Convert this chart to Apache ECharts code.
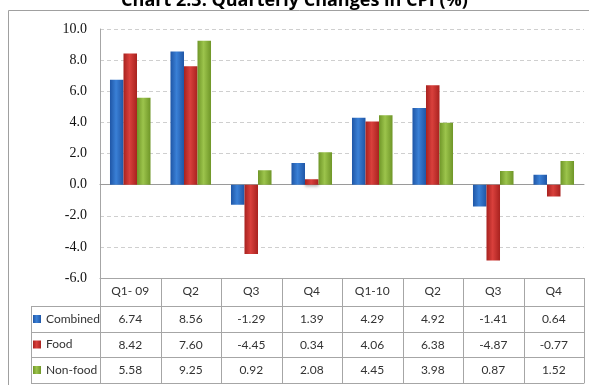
<!DOCTYPE html>
<html>
<head>
<meta charset="utf-8">
<script src="https://cdn.jsdelivr.net/npm/echarts@6/dist/echarts.min.js"></script>
<style>
  html, body { margin: 0; padding: 0; background: #fff; }
  #chart { width: 589px; height: 385px; }
</style>
</head>
<body>
<div id="chart"></div>
<script>
// Quarterly CPI changes, in per cent
const categories = ['Q1- 09', 'Q2', 'Q3', 'Q4', 'Q1-10', 'Q2', 'Q3', 'Q4'];
const seriesNames = ['Combined', 'Food', 'Non-food'];
const combined = [6.74, 8.56, -1.29, 1.39, 4.29, 4.92, -1.41, 0.64];
const food = [8.42, 7.60, -4.45, 0.34, 4.06, 6.38, -4.87, -0.77];
const nonFood = [5.58, 9.25, 0.92, 2.08, 4.45, 3.98, 0.87, 1.52];
const yMin = -6, yMax = 10, yStep = 2;

// layout
const W = 589, H = 385;
const plotLeft = 100, plotRight = 584, plotTop = 29, plotBottom = 278;
const rowOffsets = [28, 54, 79, 105];      // table row borders below the plot
const tableLeft = 31;
const gridLine = '#a6a6a6';
const tableFont = 'Lato';

function barGradient(edge, mid) {
  return new echarts.graphic.LinearGradient(0, 0, 1, 0, [
    { offset: 0, color: edge },
    { offset: 0.45, color: mid },
    { offset: 1, color: edge }
  ]);
}
const colors = [
  barGradient('#1f56a6', '#3a80d6'),
  barGradient('#a8221f', '#d9403c'),
  barGradient('#6f9628', '#9cc44c')
];
const values = [combined, food, nonFood];

// category axis used as a table row: its line is the row's top border
function tableAxis(data, offset, showLabel) {
  return {
    type: 'category',
    gridIndex: 0,
    position: 'bottom',
    offset: offset,
    data: data,
    boundaryGap: true,
    axisLine: { show: true, onZero: false, lineStyle: { color: gridLine, width: 1 } },
    axisTick: { show: false },
    axisLabel: {
      show: showLabel, interval: 0, margin: 7,
      fontFamily: tableFont, fontSize: 12, color: '#333'
    },
    splitLine: { show: false }
  };
}

const xAxes = [
  tableAxis(categories, 0, true),
  tableAxis(combined.map(v => v.toFixed(2)), rowOffsets[0], true),
  tableAxis(food.map(v => v.toFixed(2)), rowOffsets[1], true),
  tableAxis(nonFood.map(v => v.toFixed(2)), rowOffsets[2], true),
  tableAxis(categories, rowOffsets[3], false),
  // zero baseline of the bars
  {
    type: 'category', gridIndex: 0, position: 'bottom', data: categories,
    axisLine: { show: true, onZero: true, lineStyle: { color: '#9a9a9a', width: 1 } },
    axisTick: { show: false }, axisLabel: { show: false }, splitLine: { show: false }
  }
];

const series = seriesNames.map((name, i) => ({
  name: name,
  type: 'bar',
  xAxisIndex: 0,
  data: values[i],
  barGap: '0%',
  barCategoryGap: '33%',
  itemStyle: {
    color: colors[i],
    shadowColor: 'rgba(0,0,0,0.25)',
    shadowBlur: 3,
    shadowOffsetY: 2
  }
}));

const legends = seriesNames.map((name, i) => {
  const top = plotBottom + rowOffsets[i];
  const bottom = plotBottom + rowOffsets[i + 1];
  return {
    data: [name],
    left: tableLeft + 2,
    top: (top + bottom) / 2 - 7,
    padding: 0,
    orient: 'vertical',
    icon: 'rect',
    itemWidth: 8,
    itemHeight: 8,
    itemGap: 0,
    selectedMode: false,
    textStyle: { fontFamily: tableFont, fontSize: 12, color: '#333', lineHeight: 14 }
  };
});

// legend column borders of the table
const legendCells = [];
[0, 1, 2, 3].forEach(k => {
  const y = plotBottom + rowOffsets[k] + 0.5;
  legendCells.push({ type: 'line', shape: { x1: tableLeft, y1: y, x2: plotLeft, y2: y },
    style: { stroke: gridLine, lineWidth: 1 }, silent: true });
});
legendCells.push({ type: 'line',
  shape: { x1: tableLeft + 0.5, y1: plotBottom + rowOffsets[0], x2: tableLeft + 0.5, y2: plotBottom + rowOffsets[3] },
  style: { stroke: gridLine, lineWidth: 1 }, silent: true });

const option = {
  animation: false,
  backgroundColor: '#fff',
  title: {
    text: 'Chart 2.3: Quarterly Changes in CPI (%)',
    left: 'center',
    top: -13,
    textStyle: { fontFamily: 'Open Sans', fontWeight: 'bold', fontSize: 18, lineHeight: 18, color: '#000' }
  },
  graphic: [
    { type: 'rect', shape: { x: 8.5, y: 10.5, width: 620, height: 400 },
      style: { fill: 'none', stroke: '#a0a0a0', lineWidth: 1 }, silent: true, z: -10 }
  ].concat(legendCells),
  legend: legends,
  grid: {
    left: plotLeft, right: W - plotRight, top: plotTop, bottom: H - plotBottom
  },
  xAxis: xAxes,
  yAxis: {
    type: 'value',
    min: yMin, max: yMax, interval: yStep,
    axisLine: { show: true, lineStyle: { color: gridLine } },
    axisTick: { show: false },
    axisLabel: {
      margin: 13,
      fontFamily: 'Liberation Serif', fontSize: 14, color: '#111',
      formatter: v => v.toFixed(1)
    },
    splitLine: { show: true, lineStyle: { color: '#cfcfcf', type: [4, 3] } }
  },
  series: series
};

const chart = echarts.init(document.getElementById('chart'), null, { renderer: 'canvas' });
chart.setOption(option);

// cell walls of the table, at the category band edges of the x scale
const c0 = chart.convertToPixel({ xAxisIndex: 0 }, 0);
const c1 = chart.convertToPixel({ xAxisIndex: 0 }, 1);
const band = c1 - c0;
const walls = [];
for (let k = 0; k <= categories.length; k++) {
  const x = Math.round(c0 - band / 2 + k * band) + 0.5;
  walls.push({ type: 'line', silent: true,
    shape: { x1: x, y1: plotBottom, x2: x, y2: plotBottom + rowOffsets[3] },
    style: { stroke: gridLine, lineWidth: 1 } });
}
chart.setOption({ graphic: option.graphic.concat(walls) });
</script>
</body>
</html>
